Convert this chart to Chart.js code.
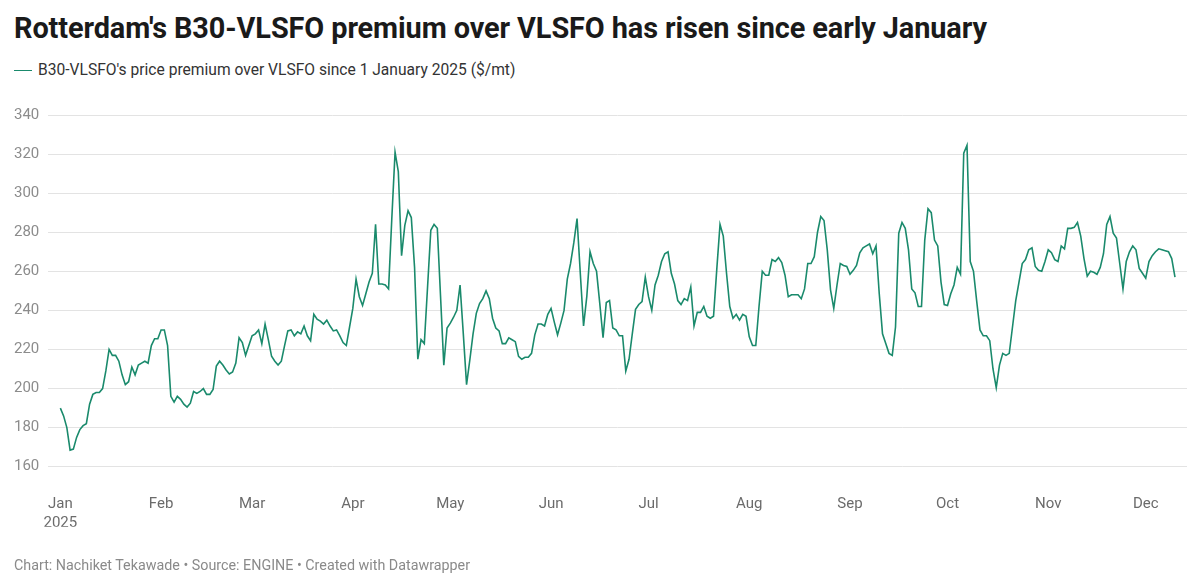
<!DOCTYPE html>
<html>
<head>
<meta charset="utf-8">
<script src="https://cdn.jsdelivr.net/npm/chart.js@4"></script>
<style>
  html, body { margin: 0; padding: 0; background: #fff; }
  body { width: 1200px; height: 588px; position: relative; overflow: hidden; font-family: Roboto, "Noto Sans", sans-serif; }
  #title { position: absolute; left: 14px; top: 11px; font-size: 28.9px; font-weight: 700; color: #1a1a1a; white-space: nowrap; letter-spacing: -0.1px; }
  #legend { position: absolute; left: 14px; top: 61px; font-size: 15.6px; color: #333; white-space: nowrap; display: flex; align-items: center; }
  #legend .sw { width: 18px; height: 0; border-top: 1.5px solid #1a8a6c; margin-right: 6px; }
  #footer { position: absolute; left: 14px; top: 557px; font-size: 14.3px; color: #8a8a8a; white-space: nowrap; }
  #c { position: absolute; left: 0; top: 0; }
</style>
</head>
<body>
<div id="title">Rotterdam's B30-VLSFO premium over VLSFO has risen since early January</div>
<div id="legend"><span class="sw"></span><span>B30-VLSFO's price premium over VLSFO since 1 January 2025 ($/mt)</span></div>
<canvas id="c" width="1200" height="588"></canvas>
<div id="footer">Chart: Nachiket Tekawade • Source: ENGINE • Created with Datawrapper</div>
<script>
// Daily series, starting 1 January 2025
const startDate = "2025-01-01";
const premium = [
  // Jan
  190,186,180,168.5,169,175,179,181,182,192,197,198,198,200,209,220,217,217,214,207,202,203.5,211,207,212,213,214,213,222,225.5,225.5,
  // Feb
  230,230,222,196,193,196,194.5,192,190.5,192.5,198.5,197.5,198.5,200,197,197,199.5,211.5,214,212,209.5,207.5,208.5,213,226,223.5,217,222,
  // Mar
  227,228,230,223,233,225,216.5,214,212,214,222,229.5,230,227,229,228,232,227,224.5,238,235.5,234.5,233,235,232,229.5,230,227,223.5,222,231.5,
  // Apr
  241,256,247,242.5,248.5,254.5,259,284,253.5,253.5,253,251,287,321,311,268,283.5,291,287.5,262,215,225,223,252,281,284,282,247,212,231,
  // May
  233.5,236.5,240,253,228,202,214.5,228,238.5,243.5,246,250,246,236,231,229.5,223,223,226,225,224,216.5,215,216,216,218,227.5,233,233,232,238,
  // Jun
  241,234,227.5,233.5,240,256,264,274.5,287,259,232,247,270,264,260,243.5,226,244,245,231,230,227,227,209,215,228,240.5,243,244.5,257,
  // Jul
  247,240,253,258,265,269,270,259,253.5,245,243,246,245,252,232,239,239,242,237,236,237,261,284,278,259,242,236,238,235,238,237,
  // Aug
  226.5,222,222,242,260,258,258,266,265,267,264.5,258,247,248,248,248,246,251,264,264,267.5,280,288,286,271,250.5,241,253,264,263,262.5,
  // Sep
  258.5,260.5,263,269.5,272,273,274,269,273,248.5,228,223,218,217,231.5,279.5,285,282,271,251,249,242,242,276,292,290,276,273,254.5,243,
  // Oct
  242.5,248.5,253,262,258.5,320.5,324.5,265,260,244.5,230,227,227,224.5,210,200.5,212,218,217,218,231.5,245,254.5,264,266,271,272,262.5,260.5,260,265,
  // Nov
  271,269.5,266,265,273,271.5,282,282,282.5,285,278,266.5,257.5,260,259.5,258.5,262,269,284,288,279.5,277,264,251,265,270,273,271,261.5,259,
  // Dec
  256.5,265,268,270,271.5,271,270.5,270,266.5,257
];
const monthTickDates = ["2025-01-01","2025-02-01","2025-03-01","2025-04-01","2025-05-01","2025-06-01","2025-07-01","2025-08-01","2025-09-01","2025-10-01","2025-11-01","2025-12-01"];
const monthTickLabels = [["Jan","2025"],"Feb","Mar","Apr","May","Jun","Jul","Aug","Sep","Oct","Nov","Dec"];
const yTicks = [160,180,200,220,240,260,280,300,320,340];
const seriesLabel = "B30-VLSFO's price premium over VLSFO since 1 January 2025 ($/mt)";

const DAY = 86400000;
const t0 = Date.parse(startDate + "T00:00:00Z");
function dayNum(s) { return (Date.parse(s + "T00:00:00Z") - t0) / DAY + 1; }
const points = premium.map((v, i) => ({ x: i + 1, y: v }));
const tickDays = monthTickDates.map(dayNum);

const fontFam = "Roboto, 'Noto Sans', sans-serif";

new Chart(document.getElementById('c'), {
  type: 'line',
  data: {
    datasets: [{
      label: seriesLabel,
      data: points,
      borderColor: '#1a8a6c',
      borderWidth: 1.6,
      pointRadius: 0,
      tension: 0,
      fill: false
    }]
  },
  options: {
    responsive: false,
    animation: false,
    layout: { padding: { left: 14, right: 13, top: 115, bottom: 61.3 } },
    plugins: { legend: { display: false }, tooltip: { enabled: false } },
    scales: {
      x: {
        type: 'linear',
        min: -2.8,
        max: 347.7,
        grid: { display: false, drawTicks: false },
        border: { display: false },
        afterBuildTicks: (s) => { s.ticks = tickDays.map(v => ({ value: v })); },
        afterFit: (s) => { s.height = 60; },
        ticks: {
          autoSkip: false,
          maxRotation: 0,
          padding: 28,
          color: '#6b6b6b',
          font: { family: fontFam, size: 15, lineHeight: 1.25 },
          callback: (v) => { const i = tickDays.indexOf(v); return i >= 0 ? monthTickLabels[i] : ''; }
        }
      },
      y: {
        min: 160,
        max: 340,
        afterBuildTicks: (s) => { s.ticks = yTicks.map(v => ({ value: v })); },
        afterFit: (s) => { s.width = 34; },
        grid: { color: '#e3e3e3', lineWidth: 1, drawTicks: false },
        border: { display: false },
        ticks: {
          crossAlign: 'far',
          padding: 0,
          color: '#8c8c8c',
          font: { family: fontFam, size: 15 }
        }
      }
    }
  }
});
</script>
</body>
</html>
